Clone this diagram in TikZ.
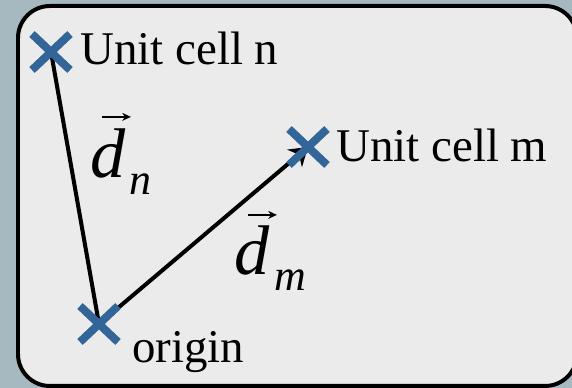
\documentclass[tikz,border=0pt]{standalone}
\usepackage{fontspec}
\setmainfont{Liberation Serif}
\newfontfamily\timesfont{Liberation Serif}
\usetikzlibrary{arrows.meta,shapes.misc}
\definecolor{slate}{RGB}{167,185,192}
\definecolor{panel}{RGB}{235,235,235}
\definecolor{markblue}{RGB}{50,102,153}

\begin{document}
\begin{tikzpicture}[x=0.02cm, y=-0.02cm, >={Stealth[length=10pt, width=13pt]},
    xmark/.style={cross out, draw=markblue, line width=0.16cm,
        minimum width=0.76cm, minimum height=0.72cm, inner sep=0pt, outer sep=0pt},
    link/.style={line width=0.08cm},
    lbl/.style={font=\timesfont\fontsize{26.7}{32}\selectfont, anchor=base west, inner sep=0pt},
    vlbl/.style={font=\timesfont\itshape\fontsize{40}{46}\selectfont, anchor=base west, inner sep=0pt},
    sublbl/.style={font=\timesfont\itshape\fontsize{25}{30}\selectfont, anchor=base west, inner sep=0pt},
    accent/.style={line width=0.04cm, -{Stealth[length=5pt, width=4.5pt]}}]
    \useasboundingbox (0,0) rectangle (572,388);
    \clip (0,0) rectangle (572,388);
    \fill[slate] (0,0) rectangle (572,388);

    % panel
    \draw[line width=0.08cm, fill=panel, rounded corners=0.64cm] (18,6) rectangle (577,386);

    \coordinate (origin) at (99,324);
    \coordinate (celln) at (51,52);
    \coordinate (cellm) at (308,147);

    \draw[link] (origin) -- (celln);
    \draw[link, ->] (origin) -- (cellm);

    \node[xmark] (mark-o) at (origin) {};
    \node[xmark] (mark-n) at (celln) {};
    \node[xmark] (mark-m) at (cellm) {};

    \node[lbl] (txt-n) at (80,65) {Unit cell n};
    \node[lbl] (txt-m) at (336,162) {Unit cell m};
    \node[lbl] (txt-o) at (132,363) {origin};

    % vector labels
    \node[vlbl] (dn) at (90,178) {d};
    \node[sublbl] (dn-sub) at (129,195) {n};
    \draw[accent] ([shift={(12,-12)}]dn.north west) -- ([shift={(41,-12)}]dn.north west);

    \node[vlbl] (dm) at (234,275) {d};
    \node[sublbl] (dm-sub) at (274,291) {m};
    \draw[accent] ([shift={(14,-11)}]dm.north west) -- ([shift={(43,-11)}]dm.north west);
\end{tikzpicture}
\end{document}
